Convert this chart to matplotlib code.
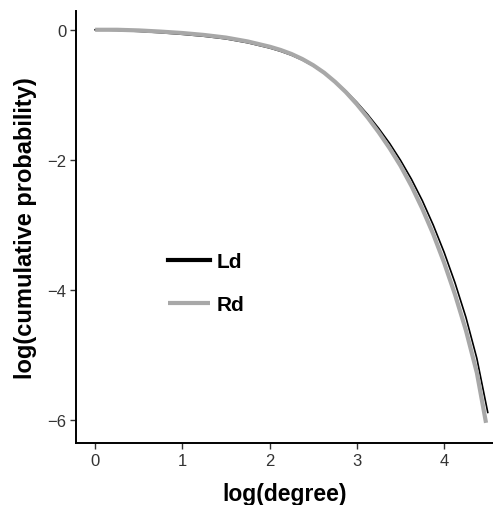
import matplotlib
matplotlib.use('Agg')
import matplotlib.pyplot as plt

# values
x_ld = [0, 0.25, 0.5, 0.75, 1.0, 1.25, 1.5, 1.75, 2.0, 2.125, 2.25, 2.375,
        2.5, 2.625, 2.75, 2.875, 3.0, 3.125, 3.25, 3.375, 3.5, 3.625, 3.75,
        3.875, 4.0, 4.125, 4.25, 4.375, 4.5]
y_ld = [0, -0.01, -0.025, -0.045, -0.07, -0.10, -0.14, -0.20, -0.28, -0.33,
        -0.39, -0.465, -0.555, -0.665, -0.795, -0.945, -1.115, -1.305, -1.515,
        -1.745, -2.005, -2.295, -2.625, -3.00, -3.42, -3.89, -4.42, -5.05, -5.88]

x_rd = [0, 0.25, 0.5, 0.75, 1.0, 1.25, 1.5, 1.75, 2.0, 2.125, 2.25, 2.375,
        2.5, 2.625, 2.75, 2.875, 3.0, 3.125, 3.25, 3.375, 3.5, 3.625, 3.75,
        3.875, 4.0, 4.125, 4.25, 4.375, 4.48]
y_rd = [0, 0.0, -0.01, -0.028, -0.05, -0.08, -0.12, -0.18, -0.26, -0.31,
        -0.372, -0.45, -0.545, -0.66, -0.80, -0.96, -1.145, -1.35, -1.575,
        -1.82, -2.09, -2.40, -2.75, -3.14, -3.58, -4.07, -4.62, -5.27, -6.04]

x_ticks = [0, 1, 2, 3, 4]
y_ticks = [0, -2, -4, -6]

plt.rcParams['font.family'] = ['Liberation Sans', 'DejaVu Sans']

fig = plt.figure(figsize=(4.93, 5.06), dpi=100)
ax = fig.add_axes([0.154, 0.1225, 0.846, 0.854])

ld, = ax.plot(x_ld, y_ld, color='black', lw=1.2, label='Ld', zorder=2)
rd, = ax.plot(x_rd, y_rd, color='#a8a8a8', lw=3.0, solid_capstyle='butt',
              label='Rd', zorder=3)

ax.set_xlim(-0.22, 4.56)
ax.set_ylim(-6.35, 0.29)
ax.set_xticks(x_ticks)
ax.set_yticks(y_ticks)
ax.set_yticklabels(['0', '\u22122', '\u22124', '\u22126'])

for s in ['top', 'right']:
    ax.spines[s].set_visible(False)
for s in ['left', 'bottom']:
    ax.spines[s].set_linewidth(1.4)
ax.tick_params(direction='out', length=4, width=1, colors='#333333',
               labelsize=12, pad=3)

ax.set_xlabel('log(degree)', fontsize=16.5, fontweight='bold', labelpad=10)
ax.set_ylabel('log(cumulative probability)', fontsize=17, fontweight='bold', labelpad=7)

leg = ax.legend([ld, rd], ['Ld', 'Rd'], loc='center left',
                bbox_to_anchor=(0.221, 0.37), frameon=False,
                borderpad=0, borderaxespad=0, handlelength=2.0,
                handletextpad=0.35, labelspacing=1.15,
                prop={'size': 15, 'weight': 'bold'})
for h in leg.legend_handles:
    h.set_linewidth(3.0)

fig.savefig('out.png', dpi=100)
